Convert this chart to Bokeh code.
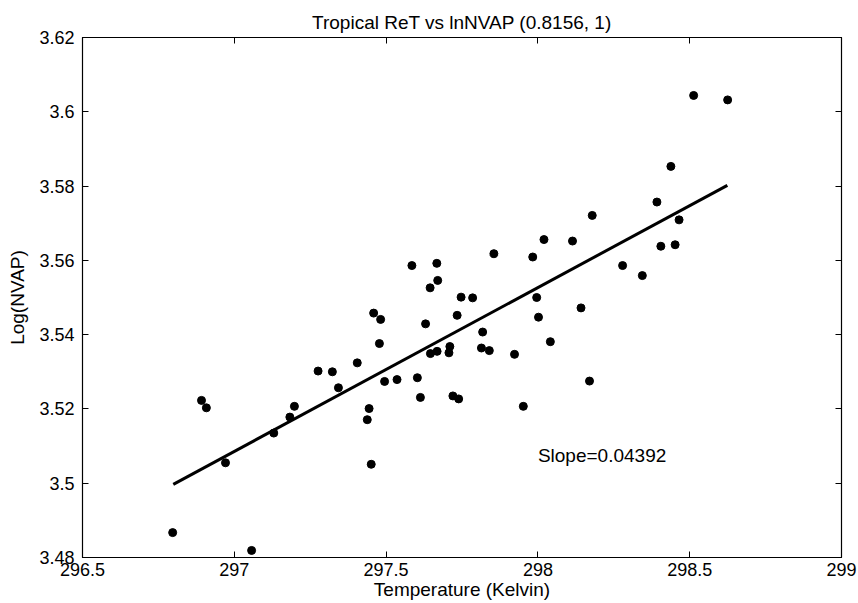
from bokeh.plotting import figure
from bokeh.models import FixedTicker, LinearAxis, Range1d, CustomJSTickFormatter, Label
from bokeh.embed import file_html
from bokeh.resources import INLINE

# ---- data ----
temperature = [
    296.797, 296.892, 296.908, 296.971, 297.057, 297.130, 297.183, 297.198,
    297.276, 297.323, 297.343, 297.405, 297.459, 297.482, 297.478, 297.444,
    297.438, 297.451, 297.495, 297.536, 297.603, 297.613, 297.630, 297.646,
    297.668, 297.710, 297.707, 297.734, 297.585, 297.667, 297.670, 297.645,
    297.747, 297.785, 297.855, 297.983, 298.020, 298.114, 297.996, 298.002,
    298.142, 297.818, 297.814, 297.840, 297.923, 298.041, 298.170, 297.720,
    297.739, 297.952, 298.179, 298.392, 298.465, 298.405, 298.452, 298.279,
    298.344, 298.438, 298.513, 298.625,
]
log_nvap = [
    3.4867, 3.5223, 3.5203, 3.5055, 3.4819, 3.5135, 3.5178, 3.5207,
    3.5302, 3.5300, 3.5257, 3.5324, 3.5458, 3.5441, 3.5376, 3.5201,
    3.5171, 3.5051, 3.5274, 3.5279, 3.5284, 3.5231, 3.5429, 3.5349,
    3.5355, 3.5368, 3.5351, 3.5452, 3.5586, 3.5592, 3.5546, 3.5526,
    3.5501, 3.5499, 3.5618, 3.5609, 3.5656, 3.5652, 3.5500, 3.5447,
    3.5472, 3.5407, 3.5364, 3.5357, 3.5347, 3.5381, 3.5275, 3.5235,
    3.5227, 3.5207, 3.5721, 3.5757, 3.5709, 3.5638, 3.5642, 3.5586,
    3.5559, 3.5853, 3.6044, 3.6032,
]
fit_x = [296.799, 298.624]
fit_y = [3.4997, 3.5802]

x_ticks = [296.5, 297, 297.5, 298, 298.5, 299]
y_ticks = [3.48, 3.50, 3.52, 3.54, 3.56, 3.58, 3.60, 3.62]

title_text = "Tropical ReT vs lnNVAP (0.8156, 1)"
x_label = "Temperature (Kelvin)"
y_label = "Log(NVAP)"
slope_text = "Slope=0.04392"
slope_x = 298.0
slope_y = 3.5075

FONT = "Liberation Sans"

p = figure(
    width=858, height=603,
    x_range=Range1d(296.5, 299), y_range=Range1d(3.48, 3.62),
    output_backend="svg", toolbar_location=None,
    min_border_left=82, min_border_right=17,
    min_border_top=37, min_border_bottom=46,
    title=title_text,
)
p.background_fill_color = "white"
p.border_fill_color = "white"
p.outline_line_color = "black"
p.outline_line_width = 1.2
p.xgrid.visible = False
p.ygrid.visible = False

p.title.align = "center"
p.title.text_font = FONT
p.title.text_font_size = "19px"
p.title.text_font_style = "normal"
p.title.text_color = "black"

fmt = CustomJSTickFormatter(code="return Number(tick.toFixed(4)).toString();")

for ax, ticks in ((p.xaxis[0], x_ticks), (p.yaxis[0], y_ticks)):
    ax.ticker = FixedTicker(ticks=ticks)
    ax.formatter = fmt
    ax.major_tick_in = 6
    ax.major_tick_out = 0
    ax.minor_tick_line_color = None
    ax.major_tick_line_color = "black"
    ax.axis_line_color = "black"
    ax.major_label_text_font = FONT
    ax.major_label_text_font_size = "18px"
    ax.major_label_text_color = "black"
    ax.axis_label_text_font = FONT
    ax.axis_label_text_font_size = "19px"
    ax.axis_label_text_font_style = "normal"
    ax.axis_label_text_color = "black"

p.xaxis.axis_label = x_label
p.yaxis.axis_label = y_label
p.xaxis.major_label_standoff = 5
p.xaxis.axis_label_standoff = 0
p.yaxis.major_label_standoff = 8
p.yaxis.axis_label_standoff = 8

# mirrored ticks on the top and right edges (MATLAB box style), no labels
top_ax = LinearAxis(ticker=FixedTicker(ticks=x_ticks), major_label_text_font_size="0px",
                    major_tick_in=6, major_tick_out=0, minor_tick_line_color=None,
                    major_label_standoff=5, axis_line_color="black")
right_ax = LinearAxis(ticker=FixedTicker(ticks=y_ticks), major_label_text_font_size="0px",
                      major_tick_in=6, major_tick_out=0, minor_tick_line_color=None,
                      major_label_standoff=0, axis_line_color="black")
top_ax.major_label_overrides = {t: "" for t in x_ticks}
right_ax.major_label_overrides = {t: "" for t in y_ticks}
p.add_layout(top_ax, "above")
p.add_layout(right_ax, "right")

p.line(fit_x, fit_y, line_width=3, line_color="black")
p.scatter(temperature, log_nvap, size=8, fill_color="black", line_color="black")

p.add_layout(Label(x=slope_x, y=slope_y, text=slope_text, text_font=FONT,
                   text_font_size="19px", text_color="black",
                   text_align="left", text_baseline="middle"))

open("out.html", "w").write(file_html(p, INLINE))
